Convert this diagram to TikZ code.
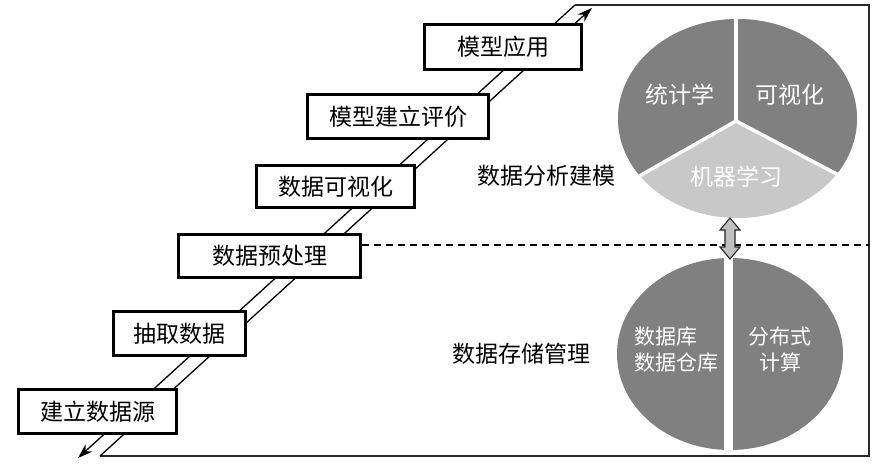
\documentclass[tikz,border=0pt]{standalone}
\usepackage{fontspec}
\setmainfont{Noto Sans CJK SC}
\usetikzlibrary{arrows.meta}
\definecolor{darkpie}{RGB}{128,128,128}
\definecolor{lightpie}{RGB}{200,200,200}
\definecolor{arrowfill}{RGB}{192,192,192}
\definecolor{framegray}{RGB}{40,40,40}
\begin{document}
\begin{tikzpicture}[x=1pt,y=-1pt,
  stepbox/.style={draw=black, line width=2.6pt, fill=white, inner sep=0pt,
    font=\fontsize{23}{23}\selectfont},
  road/.style={line width=1.3pt, draw=black},
  roadarrow/.style={road, -{Stealth[length=15pt,width=10pt]}},
  framestyle/.style={line width=1.6pt, draw=framegray},
  lbl/.style={font=\fontsize{23}{23}\selectfont, inner sep=0pt},
  pietext/.style={font=\fontsize{23}{23}\selectfont, text=white, inner sep=0pt},
  pietextsmall/.style={font=\fontsize{21}{26}\selectfont, text=white, inner sep=0pt},
  gap/.style={draw=white, line width=3.5pt}
]
\useasboundingbox (0,0) rectangle (878,467);
\fill[white] (0,0) rectangle (878,467);

% frame coordinates
\coordinate (tl) at (575,5);
\coordinate (tr) at (869,5);
\coordinate (br) at (869,456);
\coordinate (bl) at (100,456);
\coordinate (tipbl) at (78,458);
\coordinate (tiptr) at (592,8);
\coordinate (dashend) at (869,245);

% road lines and frame
\draw[framestyle] (tl) -- (tr) -- (br) -- (bl);
\draw[roadarrow] (tl) -- (tipbl);
\draw[roadarrow] (bl) -- (tiptr);

% step boxes
\node[stepbox, minimum width=158pt, minimum height=44pt] (src) at (97.5,411.5) {建立数据源};
\node[stepbox, minimum width=132pt, minimum height=44pt] (ext) at (179.5,333.5) {抽取数据};
\node[stepbox, minimum width=182pt, minimum height=43pt] (pre) at (269.5,256) {数据预处理};
\node[stepbox, minimum width=158pt, minimum height=42pt] (vis) at (335.5,186.5) {数据可视化};
\node[stepbox, minimum width=181pt, minimum height=44pt] (eval) at (398,116.5) {模型建立评价};
\node[stepbox, minimum width=157pt, minimum height=45pt] (app) at (503,47) {模型应用};

% dashed separator
\draw[line width=1.2pt, dash pattern=on 7pt off 5pt] (pre.east |- dashend) -- (dashend);

% labels
\node[lbl] (anal) at (546,176) {数据分析建模};
\node[lbl] (stor) at (521,354) {数据存储管理};

% top pie
\coordinate (pc) at (736,121);
\begin{scope}
  \clip (737.5,118.5) ellipse [x radius=119.5pt, y radius=99.5pt];
  \fill[lightpie] (600,0) rectangle (880,230);
  \fill[darkpie] (pc) -- (592,203) -- (592,0) -- (888,0) -- (888,201) -- cycle;
  \draw[gap] (pc) -- (736,0);
  \draw[gap] (pc) -- (592,203);
  \draw[gap] (pc) -- (888,201);
\end{scope}
\node[pietext] (stat) at (680,95) {统计学};
\node[pietext] (visu) at (790,95) {可视化};
\node[pietext] (ml) at (736,177) {机器学习};

% bottom pie
\begin{scope}
  \clip (730,354) ellipse [x radius=113pt, y radius=96pt];
  \fill[darkpie] (600,250) rectangle (860,460);
  \fill[white] (723.5,250) rectangle (732.5,460);
\end{scope}
\node[pietextsmall, align=left, anchor=west] (db) at (634,350) {数据库\\数据仓库};
\node[pietextsmall, align=center] (dist) at (780,350) {分布式\\计算};

% double arrow
\filldraw[fill=arrowfill, draw=framegray, line width=1.1pt]
  (730,218) -- (740,230) -- (735,230) -- (735,247) -- (740,247) -- (730,259)
  -- (720,247) -- (725,247) -- (725,230) -- (720,230) -- cycle;
\end{tikzpicture}
\end{document}
